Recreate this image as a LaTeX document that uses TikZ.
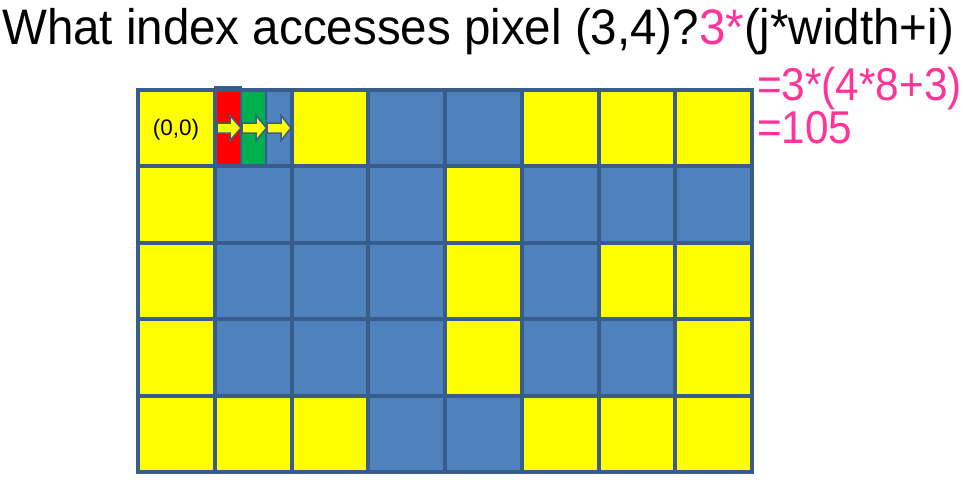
\documentclass[tikz,border=0pt]{standalone}
\usepackage{fontspec}
\setmainfont{Liberation Sans}
\definecolor{cyel}{HTML}{FFFF00}
\definecolor{cblu}{HTML}{4F81BD}
\definecolor{cline}{HTML}{385D8A}
\definecolor{cred}{HTML}{FF0000}
\definecolor{cgrn}{HTML}{00B050}
\definecolor{cpink}{HTML}{FF3399}
\begin{document}
\begin{tikzpicture}[x=1pt,y=-1pt,
  gridline/.style={draw=cline,line width=4pt},
  stripline/.style={draw=cline,line width=2pt},
  blockarrow/.style={fill=cyel,draw=cline,line width=1.5pt,line join=miter},
  bigtext/.style={inner sep=0pt,yscale=1.05,font=\fontsize{47.5}{50}\selectfont},
  pinktext/.style={inner sep=0pt,text=cpink,xscale=0.92,font=\fontsize{46}{50}\selectfont}]
\useasboundingbox (0,0) rectangle (963,485);
% cell colours: rows top to bottom, columns left to right
\def\cw{76.75}\def\rh{76.4}
\def\ymark{Y}
\foreach \row/\cols in {0/{Y,X,Y,B,B,Y,Y,Y},1/{Y,B,B,B,Y,B,B,B},2/{Y,B,B,B,Y,B,Y,Y},3/{Y,B,B,B,Y,B,B,Y},4/{Y,Y,Y,B,B,Y,Y,Y}}{
  \foreach \c [count=\col from 0] in \cols {
    \ifx\c\ymark\def\cc{cyel}\else\def\cc{cblu}\fi
    \fill[\cc] ({138+\col*\cw},{90+\row*\rh}) rectangle ++(\cw,\rh);
  }
}
% three channel strips in pixel (1,0)
\fill[cred] (214.75,90) rectangle (240.5,166.4);
\fill[cgrn] (240.5,90) rectangle (266,166.4);
\fill[cblu] (266,90) rectangle (291.5,166.4);
% grid lines
\foreach \i in {0,...,8} \draw[gridline] ({138+\i*\cw},88) -- ({138+\i*\cw},474);
\foreach \j in {0,...,5} \draw[gridline] (136,{90+\j*\rh}) -- (754,{90+\j*\rh});
\draw[stripline] (214.75,87) rectangle (240.5,166.4);
\draw[stripline] (266,90) -- (266,166.4);
% arrows
\foreach \xs/\xh/\xt in {217/230/241,242/256/266.5,267/281/291}{
  \draw[blockarrow] (\xs,123) -- (\xh,123) -- (\xh,115.5) -- (\xt,128) -- (\xh,140.5) -- (\xh,133) -- (\xs,133) -- cycle;
}
\node[inner sep=0pt,font=\fontsize{22.5}{24}\selectfont] (origin) at (176,130) {(0,0)};
\node[bigtext,anchor=base west] (title) at (2,44) {What index accesses pixel (3,4)?\textcolor{cpink}{3*}(j*width+i)};
\node[pinktext,anchor=base west] (step1) at (757,100) {=3*(4*8+3)};
\node[pinktext,anchor=base west] (step2) at (757,143) {=105};
\end{tikzpicture}
\end{document}
